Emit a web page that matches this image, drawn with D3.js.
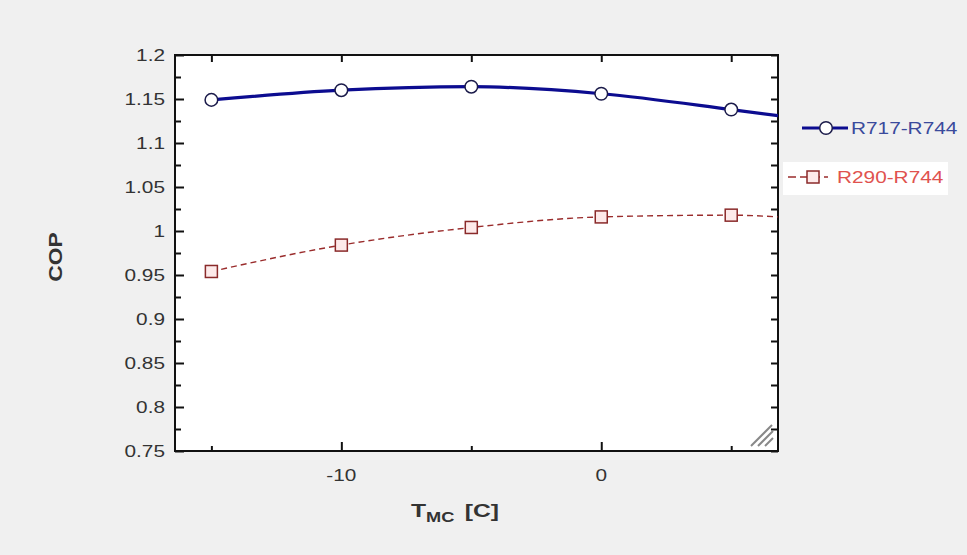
<!DOCTYPE html>
<html><head><meta charset="utf-8">
<script src="https://cdn.jsdelivr.net/npm/d3@7"></script>
<style>html,body{margin:0;padding:0;background:#f0f0f0;}svg{display:block;}</style>
</head><body>
<svg id="chart" width="967" height="555"></svg>
<script>
// ---- data ----
const markerTemps = [-15, -10, -5, 0, 5];
const copR717 = [1.149, 1.160, 1.164, 1.156, 1.138];
const copR290 = [0.954, 0.984, 1.004, 1.016, 1.018];
const lineTemps = [-15, -10, -5, 0, 5, 6.8];
const lineR717 = [1.149, 1.160, 1.164, 1.156, 1.138, 1.131];
const lineR290 = [0.954, 0.984, 1.004, 1.016, 1.018, 1.016];
const yTickValues = [0.75, 0.8, 0.85, 0.9, 0.95, 1, 1.05, 1.1, 1.15, 1.2];
const yTickLabels = ["0.75", "0.8", "0.85", "0.9", "0.95", "1", "1.05", "1.1", "1.15", "1.2"];
const yMinorValues = [0.775, 0.825, 0.875, 0.925, 0.975, 1.025, 1.075, 1.125, 1.175];
const xMajorValues = [-10, 0];
const xMajorLabels = ["-10", "0"];
const xMinorValues = [-15, -5, 5];
const seriesNames = ["R717-R744", "R290-R744"];

// ---- layout ----
const svg = d3.select("#chart");
const L = 175, R = 778, T = 55, B = 451;
const x = d3.scaleLinear().domain([-16.4, 6.8]).range([L, R]);
const y = d3.scaleLinear().domain([0.75, 1.2]).range([B, T]);
const SX = 1.3;

function label(g, px, py, txt, anchor, size, weight, color) {
  return g.append("g").attr("transform", `translate(${px},${py}) scale(${SX},1)`)
    .append("text").attr("x", 0).attr("y", 0)
    .attr("text-anchor", anchor)
    .attr("font-family", "Arial, 'Liberation Sans', sans-serif")
    .attr("font-size", size).attr("font-weight", weight).attr("fill", color)
    .text(txt);
}

svg.append("rect").attr("width", 967).attr("height", 555).attr("fill", "#f0f0f0");
svg.append("rect").attr("x", L).attr("y", T).attr("width", R - L).attr("height", B - T).attr("fill", "#fff");

// axes via d3 (inward ticks, labels drawn separately)
const axL = svg.append("g").attr("transform", `translate(${L},0)`)
  .call(d3.axisLeft(y).tickValues(yTickValues).tickSizeInner(-9).tickSizeOuter(0).tickFormat(""));
const axLm = svg.append("g").attr("transform", `translate(${L},0)`)
  .call(d3.axisLeft(y).tickValues(yMinorValues).tickSizeInner(-6).tickSizeOuter(0).tickFormat(""));
const axR = svg.append("g").attr("transform", `translate(${R},0)`)
  .call(d3.axisRight(y).tickValues(yTickValues.concat(yMinorValues)).tickSizeInner(-7).tickSizeOuter(0).tickFormat(""));
const axB = svg.append("g").attr("transform", `translate(0,${B})`)
  .call(d3.axisBottom(x).tickValues(xMajorValues).tickSizeInner(-9).tickSizeOuter(0).tickFormat(""));
const axBm = svg.append("g").attr("transform", `translate(0,${B})`)
  .call(d3.axisBottom(x).tickValues(xMinorValues).tickSizeInner(-5).tickSizeOuter(0).tickFormat(""));
const axT = svg.append("g").attr("transform", `translate(0,${T})`)
  .call(d3.axisTop(x).tickValues(xMajorValues.concat(xMinorValues)).tickSizeInner(-7).tickSizeOuter(0).tickFormat(""));
[axL, axLm, axR, axB, axBm, axT].forEach(a => {
  a.selectAll(".domain").remove();
  a.selectAll(".tick line").attr("stroke", "#111").attr("stroke-width", 2);
});

// tick labels
const lab = svg.append("g");
yTickValues.forEach((v, i) => label(lab, L - 10, y(v) + 6, yTickLabels[i], "end", 16, "normal", "#333"));
xMajorValues.forEach((v, i) => label(lab, x(v), 481, xMajorLabels[i], "middle", 16, "normal", "#333"));

// frame
svg.append("rect").attr("x", L).attr("y", T).attr("width", R - L).attr("height", B - T)
  .attr("fill", "none").attr("stroke", "#111").attr("stroke-width", 2);

// clip
svg.append("clipPath").attr("id", "clip").append("rect").attr("x", L).attr("y", T).attr("width", R - L).attr("height", B - T);
const plot = svg.append("g").attr("clip-path", "url(#clip)");

const lineGen = d3.line().x(d => x(d[0])).y(d => y(d[1])).curve(d3.curveMonotoneX);
plot.append("path").datum(lineTemps.map((t, i) => [t, lineR290[i]]))
  .attr("d", lineGen).attr("fill", "none").attr("stroke", "#9a2c2c").attr("stroke-width", 1.4)
  .attr("stroke-dasharray", "6,4");
plot.append("path").datum(lineTemps.map((t, i) => [t, lineR717[i]]))
  .attr("d", lineGen).attr("fill", "none").attr("stroke", "#0c0c90").attr("stroke-width", 3.2);

plot.selectAll(".sq").data(markerTemps.map((t, i) => [t, copR290[i]])).enter().append("rect")
  .attr("x", d => x(d[0]) - 6).attr("y", d => y(d[1]) - 6).attr("width", 12).attr("height", 12)
  .attr("fill", "#fdeaea").attr("stroke", "#8a2a2a").attr("stroke-width", 1.5);
plot.selectAll(".ci").data(markerTemps.map((t, i) => [t, copR717[i]])).enter().append("circle")
  .attr("cx", d => x(d[0])).attr("cy", d => y(d[1])).attr("r", 6.3)
  .attr("fill", "#fff").attr("stroke", "#1b1b4a").attr("stroke-width", 1.5);

// resize grip
const grip = svg.append("g").attr("stroke", "#888").attr("stroke-width", 2);
[[751, 446, 772, 425], [758, 446, 773, 431], [765, 446, 773, 438]].forEach(s =>
  grip.append("line").attr("x1", s[0]).attr("y1", s[1]).attr("x2", s[2]).attr("y2", s[3]));

// axis titles
const cop = svg.append("g").attr("transform", "translate(62,257) rotate(-90) scale(1.2,1)");
cop.append("text").attr("text-anchor", "middle").attr("font-family", "Arial, 'Liberation Sans', sans-serif")
  .attr("font-size", 19).attr("font-weight", "bold").attr("fill", "#333").text("COP");

const xt = svg.append("g").attr("transform", "translate(411,517) scale(1.3,1)");
const xtt = xt.append("text").attr("font-family", "Arial, 'Liberation Sans', sans-serif")
  .attr("font-weight", "bold").attr("fill", "#333").attr("font-size", 19);
xtt.append("tspan").text("T");
xtt.append("tspan").attr("font-size", 14).attr("dy", 5).text("MC");
xtt.append("tspan").attr("dy", -5).attr("dx", 8).text("[C]");

// legend
const lg = svg.append("g");
lg.append("line").attr("x1", 802).attr("x2", 848).attr("y1", 128).attr("y2", 128)
  .attr("stroke", "#0c0c90").attr("stroke-width", 3.2);
lg.append("circle").attr("cx", 826).attr("cy", 128).attr("r", 6.3)
  .attr("fill", "#fff").attr("stroke", "#1b1b4a").attr("stroke-width", 1.5);
label(lg, 851, 134, seriesNames[0], "start", 16, "normal", "#3a4a9c");

lg.append("rect").attr("x", 783).attr("y", 162).attr("width", 165).attr("height", 33).attr("fill", "#fff");
lg.append("line").attr("x1", 788).attr("x2", 828).attr("y1", 177).attr("y2", 177)
  .attr("stroke", "#9a2c2c").attr("stroke-width", 1.4).attr("stroke-dasharray", "8,4");
lg.append("rect").attr("x", 807).attr("y", 171).attr("width", 12).attr("height", 12)
  .attr("fill", "#fdeaea").attr("stroke", "#8a2a2a").attr("stroke-width", 1.5);
label(lg, 837, 183, seriesNames[1], "start", 16, "normal", "#e0524e");
</script>
</body></html>
